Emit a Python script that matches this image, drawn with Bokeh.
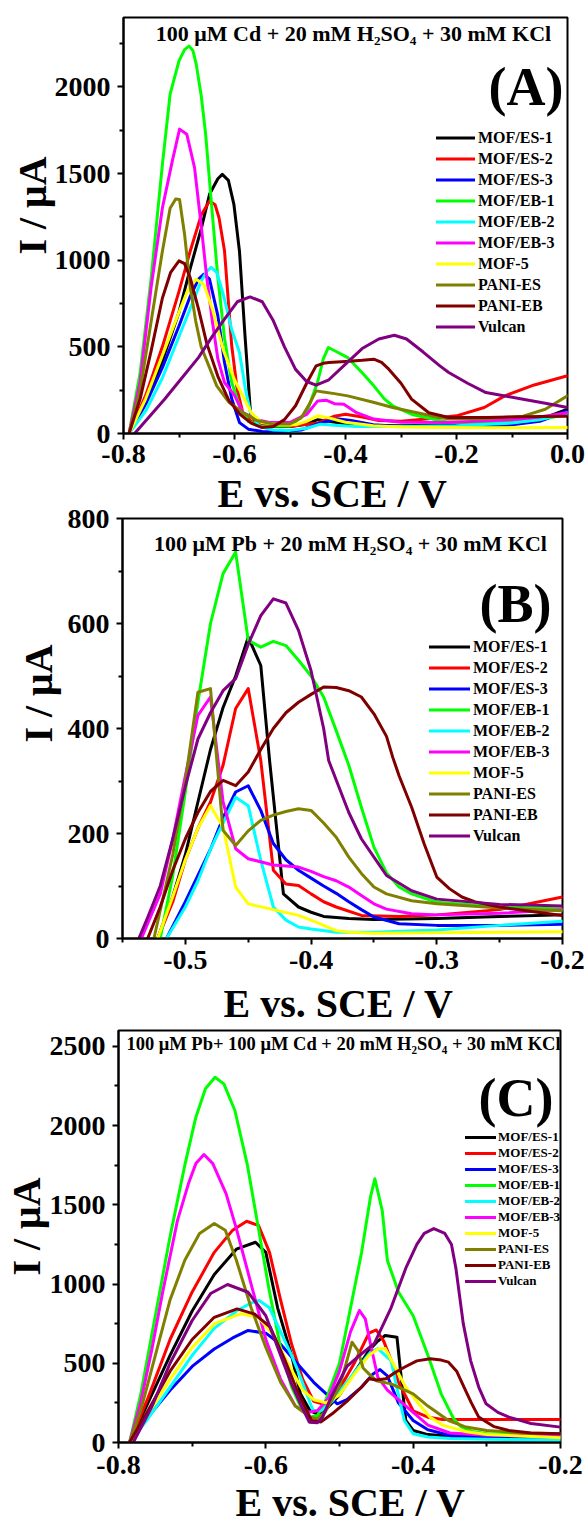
import math
from bokeh.plotting import figure
from bokeh.models import Range1d, FixedTicker, PrintfTickFormatter, Legend, LegendItem, Label, Plot
from bokeh.layouts import column
from bokeh.embed import file_html
from bokeh.resources import INLINE

FONT = "Liberation Serif"

SERIES = ["MOF/ES-1", "MOF/ES-2", "MOF/ES-3", "MOF/EB-1", "MOF/EB-2",
          "MOF/EB-3", "MOF-5", "PANI-ES", "PANI-EB", "Vulcan"]
COLORS = ["#000000", "#FF0000", "#0000FF", "#00FF00", "#00FFFF",
          "#FF00FF", "#FFFF00", "#808000", "#800000", "#800080"]

# ---------------- Panel A : 100 uM Cd ----------------
A_ES1_E = [-0.79, -0.76, -0.73, -0.70, -0.68, -0.66, -0.645, -0.63, -0.622, -0.611, -0.601, -0.591, -0.581, -0.571, -0.56, -0.54, -0.50, -0.47, -0.45, -0.43, -0.40, -0.35, -0.30, -0.20, -0.10, -0.05, 0.0]
A_ES1_I = [0, 180, 420, 700, 950, 1180, 1380, 1470, 1495, 1460, 1320, 1050, 560, 110, 60, 40, 40, 55, 80, 70, 55, 45, 45, 50, 60, 80, 140]
A_ES2_E = [-0.79, -0.76, -0.73, -0.70, -0.68, -0.66, -0.645, -0.635, -0.628, -0.618, -0.605, -0.595, -0.585, -0.57, -0.55, -0.50, -0.45, -0.42, -0.40, -0.37, -0.34, -0.30, -0.25, -0.20, -0.15, -0.113, -0.06, 0.0]
A_ES2_I = [0, 220, 500, 820, 1050, 1260, 1342, 1320, 1246, 1054, 506, 250, 121, 70, 50, 40, 60, 100, 111, 95, 75, 70, 85, 102, 150, 217, 280, 333]
A_ES3_E = [-0.79, -0.76, -0.73, -0.70, -0.68, -0.665, -0.655, -0.645, -0.63, -0.618, -0.605, -0.591, -0.575, -0.55, -0.52, -0.48, -0.45, -0.416, -0.39, -0.35, -0.30, -0.20, -0.10, -0.05, 0.0]
A_ES3_I = [0, 170, 380, 620, 790, 890, 919, 890, 680, 410, 200, 63, 25, 12, 10, 20, 55, 85, 75, 50, 40, 40, 50, 70, 130]
A_EB1_E = [-0.79, -0.77, -0.75, -0.73, -0.716, -0.70, -0.69, -0.682, -0.675, -0.669, -0.66, -0.652, -0.642, -0.63, -0.618, -0.605, -0.59, -0.575, -0.55, -0.50, -0.47, -0.45, -0.44, -0.431, -0.415, -0.396, -0.37, -0.349, -0.33, -0.315, -0.28, -0.214, -0.15, -0.10, -0.05, 0.0]
A_EB1_I = [0, 350, 900, 1550, 1958, 2150, 2215, 2235, 2210, 2131, 1950, 1727, 1343, 900, 550, 294, 150, 70, 40, 45, 120, 300, 430, 496, 470, 438, 350, 275, 200, 160, 110, 63, 60, 65, 80, 110]
A_EB2_E = [-0.79, -0.76, -0.73, -0.70, -0.68, -0.66, -0.65, -0.642, -0.632, -0.62, -0.605, -0.591, -0.58, -0.571, -0.555, -0.53, -0.50, -0.47, -0.445, -0.42, -0.38, -0.30, -0.20, -0.10, -0.05, 0.0]
A_EB2_I = [0, 130, 320, 560, 720, 880, 935, 958, 930, 800, 600, 467, 250, 121, 40, 20, 18, 30, 54, 48, 40, 40, 45, 60, 80, 120]
A_EB3_E = [-0.79, -0.77, -0.75, -0.73, -0.712, -0.699, -0.686, -0.672, -0.66, -0.65, -0.64, -0.63, -0.618, -0.60, -0.585, -0.56, -0.537, -0.50, -0.47, -0.45, -0.435, -0.42, -0.403, -0.38, -0.349, -0.30, -0.214, -0.10, -0.05, 0.0]
A_EB3_I = [0, 300, 850, 1300, 1573, 1756, 1727, 1534, 1200, 900, 650, 430, 294, 220, 121, 80, 63, 65, 110, 188, 192, 172, 169, 120, 83, 65, 63, 80, 95, 120]
A_M5_E = [-0.79, -0.76, -0.73, -0.70, -0.685, -0.669, -0.655, -0.64, -0.62, -0.60, -0.585, -0.57, -0.551, -0.52, -0.49, -0.47, -0.45, -0.43, -0.40, -0.35, -0.30, -0.214, -0.10, 0.0]
A_M5_I = [0, 200, 450, 700, 820, 890, 860, 720, 480, 310, 217, 120, 63, 50, 50, 70, 102, 90, 65, 45, 38, 35, 33, 35]
A_PES_E = [-0.79, -0.77, -0.75, -0.73, -0.716, -0.706, -0.699, -0.69, -0.68, -0.67, -0.66, -0.645, -0.632, -0.61, -0.585, -0.56, -0.53, -0.50, -0.48, -0.465, -0.453, -0.44, -0.42, -0.396, -0.35, -0.315, -0.25, -0.214, -0.15, -0.08, -0.04, 0.0]
A_PES_I = [0, 250, 650, 1050, 1300, 1353, 1350, 1150, 850, 650, 500, 380, 275, 180, 121, 75, 55, 55, 90, 170, 246, 240, 230, 217, 180, 150, 105, 83, 85, 100, 140, 217]
A_PEB_E = [-0.79, -0.77, -0.75, -0.73, -0.715, -0.70, -0.69, -0.68, -0.665, -0.65, -0.63, -0.61, -0.59, -0.57, -0.551, -0.53, -0.51, -0.49, -0.47, -0.453, -0.44, -0.43, -0.40, -0.37, -0.349, -0.335, -0.322, -0.30, -0.281, -0.25, -0.214, -0.147, -0.10, -0.05, 0.0]
A_PEB_I = [0, 200, 480, 780, 930, 996, 980, 900, 720, 520, 330, 190, 110, 60, 35, 40, 80, 160, 290, 390, 405, 410, 415, 422, 429, 410, 371, 290, 198, 120, 92, 92, 95, 98, 100]
A_VUL_E = [-0.78, -0.75, -0.726, -0.70, -0.665, -0.64, -0.618, -0.595, -0.572, -0.55, -0.53, -0.51, -0.49, -0.47, -0.453, -0.43, -0.40, -0.37, -0.34, -0.312, -0.29, -0.26, -0.23, -0.214, -0.18, -0.147, -0.11, -0.08, -0.04, 0.0]
A_VUL_I = [0, 110, 198, 300, 438, 560, 660, 760, 788, 760, 650, 500, 370, 300, 279, 310, 400, 490, 545, 567, 545, 470, 390, 352, 290, 236, 215, 198, 175, 150]

# ---------------- Panel B : 100 uM Pb ----------------
B_ES1_E = [-0.522, -0.51, -0.50, -0.49, -0.48, -0.47, -0.46, -0.45, -0.44, -0.433, -0.422, -0.41, -0.40, -0.39, -0.37, -0.35, -0.30, -0.25, -0.20]
B_ES1_I = [0, 80, 160, 260, 360, 440, 500, 574, 520, 339, 85, 60, 50, 42, 38, 36, 38, 42, 45]
B_ES2_E = [-0.522, -0.51, -0.50, -0.49, -0.48, -0.47, -0.46, -0.45, -0.44, -0.43, -0.42, -0.41, -0.40, -0.39, -0.38, -0.36, -0.33, -0.30, -0.25, -0.20]
B_ES2_I = [0, 70, 150, 210, 260, 330, 438, 476, 339, 130, 104, 101, 85, 70, 60, 44, 42, 45, 55, 79]
B_ES3_E = [-0.515, -0.50, -0.49, -0.48, -0.47, -0.46, -0.45, -0.44, -0.43, -0.42, -0.41, -0.40, -0.39, -0.38, -0.37, -0.36, -0.35, -0.33, -0.30, -0.25, -0.20]
B_ES3_I = [0, 70, 120, 170, 230, 279, 291, 244, 181, 150, 130, 115, 100, 86, 70, 55, 41, 28, 25, 25, 27]
B_EB1_E = [-0.52, -0.51, -0.50, -0.49, -0.48, -0.47, -0.46, -0.45, -0.44, -0.43, -0.42, -0.41, -0.40, -0.39, -0.38, -0.37, -0.36, -0.35, -0.34, -0.33, -0.32, -0.30, -0.25, -0.20]
B_EB1_I = [0, 120, 280, 450, 600, 695, 736, 568, 555, 566, 558, 530, 500, 460, 396, 330, 250, 174, 125, 98, 85, 69, 60, 56]
B_EB2_E = [-0.515, -0.50, -0.49, -0.48, -0.47, -0.46, -0.45, -0.44, -0.43, -0.42, -0.41, -0.40, -0.38, -0.35, -0.30, -0.25, -0.20]
B_EB2_I = [0, 60, 110, 170, 220, 269, 253, 149, 60, 35, 22, 18, 12, 12, 16, 25, 33]
B_EB3_E = [-0.535, -0.52, -0.51, -0.50, -0.49, -0.48, -0.47, -0.46, -0.45, -0.43, -0.41, -0.40, -0.39, -0.38, -0.37, -0.36, -0.35, -0.34, -0.32, -0.30, -0.25, -0.20]
B_EB3_I = [0, 85, 190, 310, 425, 460, 260, 171, 152, 140, 136, 128, 118, 110, 98, 82, 66, 56, 47, 45, 48, 55]
B_M5_E = [-0.522, -0.51, -0.50, -0.49, -0.48, -0.47, -0.46, -0.45, -0.43, -0.41, -0.40, -0.39, -0.38, -0.37, -0.35, -0.30, -0.25, -0.20]
B_M5_I = [0, 80, 150, 210, 253, 212, 98, 66, 55, 44, 35, 25, 15, 12, 10, 11, 12, 13]
B_PES_E = [-0.525, -0.51, -0.50, -0.49, -0.48, -0.47, -0.46, -0.45, -0.44, -0.43, -0.42, -0.41, -0.40, -0.39, -0.38, -0.37, -0.36, -0.35, -0.34, -0.32, -0.30, -0.25, -0.20]
B_PES_I = [0, 160, 300, 469, 476, 206, 177, 205, 225, 235, 242, 247, 244, 220, 193, 155, 124, 98, 85, 72, 66, 58, 53]
B_PEB_E = [-0.53, -0.52, -0.51, -0.50, -0.49, -0.48, -0.47, -0.46, -0.45, -0.44, -0.43, -0.42, -0.41, -0.40, -0.39, -0.38, -0.37, -0.36, -0.35, -0.34, -0.335, -0.33, -0.32, -0.31, -0.30, -0.29, -0.28, -0.27, -0.25, -0.22, -0.20]
B_PEB_I = [0, 60, 130, 190, 240, 280, 301, 291, 317, 360, 400, 430, 450, 465, 479, 478, 472, 460, 428, 385, 345, 310, 250, 180, 117, 95, 79, 70, 60, 50, 44]
B_VUL_E = [-0.537, -0.53, -0.52, -0.51, -0.50, -0.49, -0.48, -0.47, -0.46, -0.45, -0.44, -0.43, -0.42, -0.41, -0.40, -0.39, -0.386, -0.37, -0.36, -0.35, -0.34, -0.32, -0.30, -0.25, -0.20]
B_VUL_I = [0, 40, 100, 190, 290, 380, 430, 472, 495, 560, 615, 647, 639, 587, 510, 400, 339, 240, 190, 155, 120, 91, 75, 65, 62]

# ---------------- Panel C : 100 uM Pb + 100 uM Cd ----------------
C_ES1_E = [-0.785, -0.76, -0.73, -0.70, -0.67, -0.64, -0.614, -0.60, -0.584, -0.565, -0.553, -0.54, -0.53, -0.52, -0.50, -0.48, -0.46, -0.448, -0.438, -0.422, -0.416, -0.41, -0.40, -0.38, -0.35, -0.30, -0.20]
C_ES1_I = [0, 250, 550, 830, 1060, 1220, 1264, 1200, 850, 550, 307, 200, 180, 200, 300, 440, 580, 640, 675, 664, 400, 139, 76, 50, 40, 35, 30]
C_ES2_E = [-0.785, -0.76, -0.73, -0.70, -0.67, -0.645, -0.626, -0.61, -0.595, -0.58, -0.565, -0.55, -0.535, -0.52, -0.50, -0.48, -0.46, -0.45, -0.44, -0.43, -0.42, -0.40, -0.38, -0.36, -0.30, -0.20]
C_ES2_I = [0, 280, 650, 950, 1200, 1340, 1396, 1370, 1200, 900, 620, 400, 260, 240, 340, 500, 690, 710, 640, 520, 380, 200, 160, 145, 145, 145]
C_ES3_E = [-0.785, -0.76, -0.73, -0.70, -0.67, -0.645, -0.624, -0.60, -0.58, -0.553, -0.535, -0.518, -0.503, -0.49, -0.47, -0.455, -0.445, -0.435, -0.42, -0.40, -0.38, -0.35, -0.30, -0.20]
C_ES3_I = [0, 160, 330, 480, 590, 660, 707, 690, 620, 475, 380, 307, 244, 270, 350, 430, 460, 420, 250, 139, 80, 45, 30, 20]
C_EB1_E = [-0.785, -0.77, -0.75, -0.73, -0.71, -0.695, -0.682, -0.669, -0.657, -0.642, -0.625, -0.61, -0.595, -0.58, -0.565, -0.55, -0.54, -0.53, -0.52, -0.50, -0.485, -0.47, -0.458, -0.452, -0.442, -0.435, -0.42, -0.40, -0.38, -0.362, -0.345, -0.335, -0.32, -0.30, -0.20]
C_EB1_I = [0, 300, 800, 1300, 1750, 2053, 2232, 2305, 2263, 2095, 1750, 1350, 950, 600, 350, 200, 160, 170, 250, 500, 850, 1200, 1548, 1664, 1464, 1150, 950, 800, 550, 307, 150, 100, 70, 55, 40]
C_EB2_E = [-0.785, -0.76, -0.73, -0.70, -0.67, -0.64, -0.62, -0.609, -0.595, -0.58, -0.565, -0.553, -0.536, -0.525, -0.51, -0.49, -0.47, -0.458, -0.448, -0.43, -0.42, -0.412, -0.40, -0.38, -0.35, -0.30, -0.20]
C_EB2_I = [0, 150, 350, 550, 720, 830, 880, 896, 850, 700, 550, 412, 202, 200, 260, 380, 500, 570, 593, 517, 300, 139, 55, 35, 25, 20, 15]
C_EB3_E = [-0.785, -0.77, -0.755, -0.74, -0.72, -0.705, -0.695, -0.684, -0.672, -0.654, -0.64, -0.62, -0.60, -0.58, -0.56, -0.545, -0.53, -0.515, -0.50, -0.485, -0.473, -0.465, -0.458, -0.448, -0.435, -0.42, -0.40, -0.38, -0.35, -0.30, -0.20]
C_EB3_I = [0, 250, 581, 950, 1400, 1634, 1760, 1817, 1760, 1571, 1350, 1000, 650, 400, 230, 190, 200, 280, 450, 700, 833, 780, 623, 412, 330, 270, 190, 110, 60, 45, 40]
C_M5_E = [-0.785, -0.76, -0.73, -0.70, -0.67, -0.634, -0.61, -0.59, -0.57, -0.55, -0.535, -0.518, -0.50, -0.48, -0.46, -0.448, -0.438, -0.425, -0.41, -0.39, -0.377, -0.36, -0.33, -0.30, -0.20]
C_M5_I = [0, 180, 400, 600, 750, 812, 790, 680, 500, 330, 270, 250, 300, 430, 550, 590, 593, 480, 349, 230, 160, 110, 70, 50, 30]
C_PES_E = [-0.785, -0.77, -0.75, -0.73, -0.71, -0.69, -0.67, -0.655, -0.64, -0.62, -0.60, -0.58, -0.56, -0.54, -0.53, -0.52, -0.50, -0.483, -0.475, -0.468, -0.46, -0.45, -0.43, -0.40, -0.38, -0.352, -0.33, -0.30, -0.25, -0.20]
C_PES_I = [0, 200, 550, 900, 1150, 1319, 1382, 1340, 1150, 850, 600, 380, 230, 160, 150, 190, 350, 633, 580, 470, 433, 390, 370, 307, 230, 139, 100, 76, 60, 55]
C_PEB_E = [-0.785, -0.76, -0.73, -0.70, -0.67, -0.639, -0.615, -0.594, -0.575, -0.555, -0.538, -0.525, -0.51, -0.49, -0.47, -0.46, -0.45, -0.437, -0.425, -0.412, -0.395, -0.377, -0.362, -0.352, -0.341, -0.331, -0.321, -0.311, -0.29, -0.27, -0.24, -0.20]
C_PEB_I = [0, 200, 450, 650, 790, 843, 810, 728, 530, 300, 139, 130, 181, 260, 350, 402, 395, 402, 440, 475, 515, 528, 520, 507, 450, 349, 250, 160, 100, 76, 60, 55]
C_VUL_E = [-0.78, -0.755, -0.73, -0.70, -0.675, -0.652, -0.624, -0.60, -0.58, -0.566, -0.553, -0.541, -0.53, -0.523, -0.51, -0.49, -0.47, -0.453, -0.43, -0.41, -0.395, -0.385, -0.372, -0.357, -0.348, -0.342, -0.332, -0.322, -0.311, -0.301, -0.285, -0.27, -0.24, -0.20]
C_VUL_I = [0, 223, 500, 770, 940, 997, 948, 800, 550, 380, 244, 128, 125, 160, 300, 480, 560, 623, 850, 1100, 1250, 1320, 1350, 1319, 1250, 1100, 750, 517, 350, 244, 190, 160, 120, 97]

# axis ticks
A_XTICKS = [-0.8, -0.6, -0.4, -0.2, 0.0]
A_YTICKS = [0, 500, 1000, 1500, 2000]
B_XTICKS = [-0.5, -0.4, -0.3, -0.2]
B_YTICKS = [0, 200, 400, 600, 800]
C_XTICKS = [-0.8, -0.6, -0.4, -0.2]
C_YTICKS = [0, 500, 1000, 1500, 2000, 2500]

A_TITLE = "100 \u03bcM Cd + 20 mM H\u2082SO\u2084 + 30 mM KCl"
B_TITLE = "100 \u03bcM Pb + 20 mM H\u2082SO\u2084 + 30 mM KCl"
C_TITLE = "100 \u03bcM Pb+ 100 \u03bcM Cd + 20 mM H\u2082SO\u2084 + 30 mM KCl"
XLABEL = "E vs. SCE / V"
YLABEL = "I / \u03bcA"

A_DATA = [(A_ES1_E, A_ES1_I), (A_ES2_E, A_ES2_I), (A_ES3_E, A_ES3_I), (A_EB1_E, A_EB1_I), (A_EB2_E, A_EB2_I),
          (A_EB3_E, A_EB3_I), (A_M5_E, A_M5_I), (A_PES_E, A_PES_I), (A_PEB_E, A_PEB_I), (A_VUL_E, A_VUL_I)]
B_DATA = [(B_ES1_E, B_ES1_I), (B_ES2_E, B_ES2_I), (B_ES3_E, B_ES3_I), (B_EB1_E, B_EB1_I), (B_EB2_E, B_EB2_I),
          (B_EB3_E, B_EB3_I), (B_M5_E, B_M5_I), (B_PES_E, B_PES_I), (B_PEB_E, B_PEB_I), (B_VUL_E, B_VUL_I)]
C_DATA = [(C_ES1_E, C_ES1_I), (C_ES2_E, C_ES2_I), (C_ES3_E, C_ES3_I), (C_EB1_E, C_EB1_I), (C_EB2_E, C_EB2_I),
          (C_EB3_E, C_EB3_I), (C_M5_E, C_M5_I), (C_PES_E, C_PES_I), (C_PEB_E, C_PEB_I), (C_VUL_E, C_VUL_I)]

W = 585


def no_align(p):
    if "frame_align" in p.properties():
        p.frame_align = False


def make_panel(data, xr, yr, xticks, xminor, yticks, yminor, H, fl, fr, ft, fh,
               title, title_size, title_pos, letter, letter_pos,
               xtick_standoff, ylab_standoff, ylab_pad,
               leg_loc, leg_gw, leg_rh, leg_font, leg_standoff):
    fw = W - fl - fr
    fb = H - ft - fh
    p = figure(width=W, height=H, x_range=Range1d(*xr), y_range=Range1d(*yr),
               output_backend="svg", toolbar_location=None,
               min_border_left=fl, min_border_right=fr,
               min_border_top=ft, min_border_bottom=fb)
    no_align(p)
    p.background_fill_color = "white"
    p.border_fill_color = "white"
    p.outline_line_color = "black"
    p.outline_line_width = 2
    p.outline_line_alpha = 1.0
    p.xgrid.visible = False
    p.ygrid.visible = False

    def px2x(px):
        return xr[0] + (px - fl) / fw * (xr[1] - xr[0])

    def px2y(py):
        return yr[1] - (py - ft) / fh * (yr[1] - yr[0])

    rends = []
    for (e, i), c in zip(data, COLORS):
        r = p.line(e, i, line_color=c, line_width=3, line_join="round", line_cap="round")
        rends.append(r)

    axes = ((p.xaxis[0], xticks, xminor, "%.1f", xtick_standoff),
            (p.yaxis[0], yticks, yminor, "%d", 7))
    for ax, ticks, minor, fmt, standoff in axes:
        ax.ticker = FixedTicker(ticks=ticks, minor_ticks=minor)
        ax.formatter = PrintfTickFormatter(format=fmt)
        ax.axis_line_width = 2
        ax.axis_line_color = "black"
        ax.major_tick_line_width = 2
        ax.major_tick_out = 6
        ax.major_tick_in = 0
        ax.minor_tick_line_width = 2
        ax.minor_tick_out = 4
        ax.minor_tick_in = 0
        ax.major_label_text_font = FONT
        ax.major_label_text_font_style = "bold"
        ax.major_label_text_font_size = "28px"
        ax.major_label_text_color = "black"
        ax.major_label_standoff = standoff

    ya = p.yaxis[0]
    ya.axis_label = "\u00a0" * ylab_pad + YLABEL
    ya.axis_label_text_font = FONT
    ya.axis_label_text_font_style = "bold"
    ya.axis_label_text_font_size = "40px"
    ya.axis_label_text_color = "black"
    ya.axis_label_standoff = ylab_standoff

    legend = Legend(items=[LegendItem(label=s, renderers=[r]) for s, r in zip(SERIES, rends)],
                    location=leg_loc, padding=0, margin=0, spacing=0,
                    glyph_width=leg_gw, glyph_height=leg_rh, label_height=leg_rh,
                    label_standoff=leg_standoff,
                    label_text_font=FONT, label_text_font_style="bold",
                    label_text_font_size=leg_font, label_text_color="black",
                    border_line_alpha=0, background_fill_alpha=0)
    p.add_layout(legend, "center")

    p.add_layout(Label(x=px2x(title_pos[0]), y=px2y(title_pos[1]), text=title,
                       text_font=FONT, text_font_style="bold", text_font_size=title_size,
                       text_align="center", text_baseline="middle", text_color="black"))
    p.add_layout(Label(x=px2x(letter_pos[0]), y=px2y(letter_pos[1]), text=letter,
                       text_font=FONT, text_font_style="bold", text_font_size="54px",
                       text_align="right", text_baseline="middle", text_color="black"))
    return p


def make_xtitle_strip(h, cx, center_from_top):
    # a thin strip holding the x-axis title below a panel
    s = Plot(width=W, height=h, x_range=Range1d(0, W), y_range=Range1d(0, h),
             min_border=0, toolbar_location=None, output_backend="svg", title=None,
             outline_line_color=None, background_fill_color="white", border_fill_color="white")
    no_align(s)
    s.add_layout(Label(x=cx, y=h - center_from_top, text=XLABEL,
                       text_font=FONT, text_font_style="bold", text_font_size="40px",
                       text_align="center", text_baseline="middle", text_color="black"))
    return s


pA = make_panel(A_DATA, (-0.8, 0.0), (0, 2400), A_XTICKS, [-0.7, -0.5, -0.3, -0.1],
                A_YTICKS, [250, 750, 1250, 1750, 2250],
                H=478, fl=123, fr=18, ft=17, fh=416,
                title=A_TITLE, title_size="22px", title_pos=(353, 33),
                letter="(A)", letter_pos=(563, 86),
                xtick_standoff=5, ylab_standoff=-3, ylab_pad=4,
                leg_loc=(313, 96), leg_gw=39, leg_rh=21, leg_font="16px", leg_standoff=3)
sA = make_xtitle_strip(31, 332, 15)

pB = make_panel(B_DATA, (-0.55, -0.2), (0, 800), B_XTICKS, [-0.55, -0.45, -0.35, -0.25],
                B_YTICKS, [100, 300, 500, 700],
                H=475, fl=122, fr=23, ft=9, fh=420,
                title=B_TITLE, title_size="22px", title_pos=(350, 34),
                letter="(B)", letter_pos=(551, 94),
                xtick_standoff=6, ylab_standoff=4, ylab_pad=7,
                leg_loc=(307, 92), leg_gw=41, leg_rh=21, leg_font="16px", leg_standoff=3)
sB = make_xtitle_strip(38, 338, 19)

pC = make_panel(C_DATA, (-0.8, -0.2), (0, 2600), C_XTICKS, [-0.7, -0.5, -0.3],
                C_YTICKS, [250, 750, 1250, 1750, 2250],
                H=467, fl=116, fr=25, ft=8, fh=412,
                title=C_TITLE, title_size="18.5px", title_pos=(342, 21),
                letter="(C)", letter_pos=(553, 75),
                xtick_standoff=7, ylab_standoff=-2, ylab_pad=2,
                leg_loc=(347, 153), leg_gw=31, leg_rh=16, leg_font="13px", leg_standoff=2)
sC = make_xtitle_strip(28, 350, 13)

layout = column(pA, sA, pB, sB, pC, sC, spacing=0)
open("out.html", "w").write(file_html(layout, INLINE))
